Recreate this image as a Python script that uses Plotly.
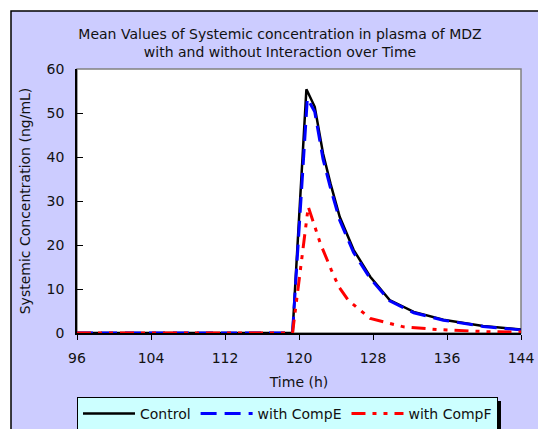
import plotly.graph_objects as go

# ---- data ----
t_control = [96, 119.3, 120.8, 121.7, 122.6, 123.4, 124.4, 125.9, 127.7, 129.8, 132.4, 135.6, 139.9, 144]
control   = [0, 0, 55.4, 51.4, 40.8, 34.0, 26.4, 18.9, 12.8, 7.5, 4.8, 3.0, 1.6, 0.8]

t_compE = [96, 119.3, 120.9, 121.7, 122.6, 123.4, 124.4, 125.9, 127.7, 129.8, 132.4, 135.6, 139.9, 144]
compE   = [0, 0, 53.3, 50.3, 39.5, 33.0, 25.6, 18.3, 12.4, 7.3, 4.6, 2.9, 1.5, 0.7]

t_compF = [96, 119.3, 121.0, 122.3, 123.5, 124.3, 125.3, 127.7, 131.3, 134.9, 140.3, 144]
compF   = [0, 0, 28.7, 20.4, 14.3, 10.5, 7.5, 3.3, 1.4, 0.8, 0.3, 0.2]

x_ticks = [96, 104, 112, 120, 128, 136, 144]
y_ticks = [0, 10, 20, 30, 40, 50, 60]

FONT = "DejaVu Sans"
W, H = 538, 429
L, R, T, B = 77, 17, 69, 96
pw, ph = W - L - R, H - T - B

def px_x(p):
    return (p - L) / pw

def px_y(p):
    return (H - B - p) / ph

fig = go.Figure()
fig.add_trace(go.Scatter(x=t_control, y=control, mode="lines", name="Control",
                         line=dict(color="black", width=2.5)))
fig.add_trace(go.Scatter(x=t_compE, y=compE, mode="lines", name="with CompE",
                         line=dict(color="#0000ff", width=3, dash="16px,8px")))
fig.add_trace(go.Scatter(x=t_compF, y=compF, mode="lines", name="with CompF",
                         line=dict(color="#ff0000", width=3, dash="14px,7px,4px,7px,4px,7px")))

shapes = [
    # outer lavender frame
    dict(type="rect", xref="paper", yref="paper", layer="below",
         x0=px_x(11), x1=px_x(545), y0=px_y(440), y1=px_y(11),
         fillcolor="#ccccff", line=dict(color="black", width=1.5)),
    # white plot area
    dict(type="rect", xref="paper", yref="paper", layer="below",
         x0=0, x1=1, y0=0, y1=1, fillcolor="white", line=dict(color="#808080", width=1.5)),
    # legend shadow
    dict(type="rect", xref="paper", yref="paper", layer="below",
         x0=px_x(496), x1=px_x(501), y0=px_y(440), y1=px_y(401),
         fillcolor="black", line=dict(width=0)),
]

fig.update_layout(
    width=W, height=H,
    margin=dict(l=L, r=R, t=T, b=B, pad=0, autoexpand=False),
    paper_bgcolor="white", plot_bgcolor="white",
    font=dict(family=FONT, size=14, color="#111111"),
    title=dict(text="Mean Values of Systemic concentration in plasma of MDZ<br>with and without Interaction over Time",
               x=280 / W, xref="container", xanchor="center", y=1 - 39 / H, yanchor="middle",
               font=dict(family=FONT, size=14, color="#111111")),
    xaxis=dict(range=[96, 144], tickvals=x_ticks, ticks="outside", ticklen=5, tickcolor="black",
               showline=True, linecolor="black", linewidth=1.5, showgrid=False, zeroline=False,
               ticklabelstandoff=6,
               title=dict(text="Time (h)", standoff=13, font=dict(size=14))),
    yaxis=dict(range=[0, 60], tickvals=y_ticks, ticks="inside", ticklen=6, tickcolor="black",
               showline=True, linecolor="black", linewidth=1.5, showgrid=False, zeroline=False,
               ticklabelstandoff=8,
               title=dict(text="Systemic Concentration (ng/mL)", standoff=13, font=dict(size=14))),
    legend=dict(orientation="h", x=0, xanchor="left", y=px_y(397), yanchor="top",
                bgcolor="#ccffff", bordercolor="black", borderwidth=1,
                itemwidth=52,
                font=dict(family=FONT, size=14), traceorder="normal"),
    shapes=shapes,
    showlegend=True,
)

fig.write_html("out.html")
